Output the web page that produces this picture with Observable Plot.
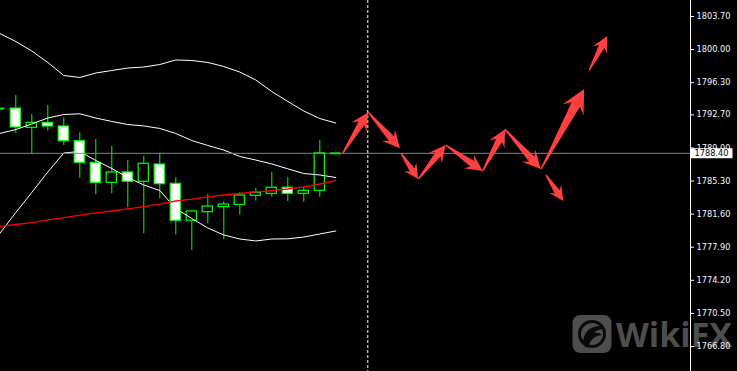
<!DOCTYPE html>
<html><head><meta charset="utf-8">
<script src="https://cdn.jsdelivr.net/npm/d3@7"></script>
<script src="https://cdn.jsdelivr.net/npm/@observablehq/plot@0.6"></script>
<style>
html,body{margin:0;padding:0;background:#000;}
#wrap{position:relative;width:737px;height:371px;overflow:hidden;background:#000;}
#wm{position:absolute;left:0;top:0;}
#chart{position:absolute;left:0;top:0;}
</style></head><body>
<div id="wrap">
<svg id="wm" width="737" height="371">
  <rect x="572.5" y="315" width="39" height="38" rx="8" fill="#4e4e4e"/>
  <circle cx="592" cy="334" r="12.5" fill="none" stroke="#0a0a0a" stroke-width="3"/>
  <path d="M583,341 Q585,328 598,326 Q602,326 605,329 Q597,329 594,333 Q599,332 602,335 Q594,336 591,341 Q589,345 586,348 Z" fill="#0a0a0a"/>
  <text x="616" y="347" font-family="Open Sans, Roboto, sans-serif" font-weight="700" font-size="34" fill="#4e4e4e">WikiFX</text>
</svg>
<div id="chart"></div>
</div>
<script>
// ---- data ----
const barIndex = [0,1,2,3,4,5,6,7,8,9,10,11,12,13,14,15,16,17,18,19,20,21];
const opens  = [1793.41,1793.41,1791.25,1791.81,1791.40,1789.76,1787.34,1785.10,1786.26,1785.22,1787.15,1784.99,1780.86,1781.82,1782.38,1782.64,1783.65,1783.87,1784.55,1783.87,1784.21,1788.40];
const highs  = [1793.41,1794.87,1792.74,1793.75,1792.37,1790.70,1789.95,1789.16,1787.60,1788.05,1788.41,1785.66,1781.90,1783.80,1783.01,1783.99,1784.47,1786.26,1785.70,1784.61,1789.83,1788.40];
const lows   = [1793.41,1790.62,1788.27,1790.87,1789.28,1785.62,1783.76,1783.87,1782.31,1779.40,1783.32,1779.27,1777.53,1780.52,1778.73,1781.48,1783.05,1783.49,1783.01,1782.94,1783.49,1788.40];
const closes = [1793.41,1791.29,1791.81,1791.40,1789.76,1787.34,1785.10,1786.26,1785.22,1787.23,1784.95,1780.86,1781.90,1782.45,1782.68,1783.68,1783.99,1784.55,1783.87,1784.21,1788.40,1788.40];

const upperBand  = [1801.80,1800.90,1799.84,1798.56,1797.10,1796.88,1797.38,1797.66,1797.94,1798.05,1798.33,1798.84,1798.78,1798.56,1798.11,1797.49,1796.60,1795.31,1794.20,1793.13,1792.29,1791.79];
const middleBand = [1790.62,1791.06,1791.68,1792.35,1792.74,1792.82,1792.35,1791.96,1791.62,1791.46,1791.18,1790.62,1789.83,1789.28,1788.77,1788.05,1787.65,1787.21,1786.67,1786.14,1785.98,1785.70];
const lowerBand  = [1779.44,1781.78,1784.02,1786.31,1788.44,1788.60,1787.60,1786.70,1785.70,1784.86,1784.24,1782.23,1781.11,1780.05,1779.27,1778.82,1778.60,1778.82,1778.84,1779.04,1779.38,1779.72];
const redLine    = [1780.22,1780.44,1780.66,1780.95,1781.22,1781.50,1781.73,1781.95,1782.18,1782.45,1782.73,1783.07,1783.27,1783.52,1783.74,1783.91,1784.08,1784.24,1784.41,1784.64,1784.97,1785.36];

const arrowX1 = [21.46,23.06,25.11,26.19,27.90,30.21,31.61,34.17,33.86,36.875];
const arrowY1 = [1788.35,1792.93,1788.35,1785.47,1789.28,1786.37,1791.03,1785.92,1786.59,1797.66];
const arrowX2 = [23.06,25.04,26.19,27.90,30.21,31.61,33.84,35.25,36.56,38.00];
const arrowY2 = [1792.93,1788.91,1785.47,1789.28,1786.37,1791.03,1786.59,1783.01,1795.54,1801.46];

const yTicks = [1803.70,1800.00,1796.30,1792.70,1789.00,1785.30,1781.60,1777.90,1774.20,1770.50,1766.80];
const currentPrice = 1788.40;
const futureBar = 23;

const xDomain = [0.04375, 43.169];
const yDomain = [1764.004, 1805.489];

// ---- build ----
const candles = barIndex.map((i,k)=>({i, open: opens[k], high: highs[k], low: lows[k], close: closes[k]}));
const bodies = candles.filter(d => d.open !== d.close);
const dojis = candles.filter(d => d.open === d.close);
const bands = barIndex.map((i,k)=>({i, upper: upperBand[k], middle: middleBand[k], lower: lowerBand[k], ma: redLine[k]}));
const arrows = arrowX1.map((x1,k)=>({x1, y1: arrowY1[k], x2: arrowX2[k], y2: arrowY2[k]}));

const halfBody = 0.32;
const arrowColor = "#ff4040";
const lime = "#00ff00";

function taperedArrows(index, scales, values) {
  const g = d3.create("svg:g");
  for (const i of index) {
    const x1 = values.x1[i], y1 = values.y1[i], x2 = values.x2[i], y2 = values.y2[i];
    const dx = x2 - x1, dy = y2 - y1, L = Math.hypot(dx, dy);
    const ux = dx / L, uy = dy / L, nx = -uy, ny = ux;
    const h = 10 + 0.15 * L, hw = 0.5 * h, sw = 0.2 * h, tw = 0.7;
    const bx = x2 - ux * h, by = y2 - uy * h;
    const jx = x2 - ux * h * 0.75, jy = y2 - uy * h * 0.75;
    const pts = [
      [x1 + nx * tw, y1 + ny * tw],
      [jx + nx * sw, jy + ny * sw],
      [bx + nx * hw, by + ny * hw],
      [x2, y2],
      [bx - nx * hw, by - ny * hw],
      [jx - nx * sw, jy - ny * sw],
      [x1 - nx * tw, y1 - ny * tw]
    ];
    g.append("path").attr("d", "M" + pts.map(p => p[0].toFixed(2) + "," + p[1].toFixed(2)).join("L") + "Z").attr("fill", arrowColor);
  }
  return g.node();
}

const barShape = {draw(context, l) { context.moveTo(0, 0); context.lineTo(0, -l); }};

const plot = Plot.plot({
  width: 737, height: 371,
  marginLeft: 0, marginRight: 47, marginTop: 0, marginBottom: 0,
  style: {background: "transparent", color: "white", fontFamily: "'DejaVu Sans', Tahoma, sans-serif", fontSize: "8px"},
  x: {domain: xDomain, axis: null},
  y: {domain: yDomain, axis: null},
  marks: [
    Plot.ruleX(candles, {x: "i", y1: "low", y2: "high", stroke: lime}),
    Plot.rect(bodies, {x1: d => d.i - halfBody, x2: d => d.i + halfBody, y1: "open", y2: "close",
      fill: d => d.close < d.open ? "#ffffff" : "#000000", stroke: lime, strokeWidth: 1.2}),
    Plot.ruleY(dojis, {y: "open", x1: d => d.i - halfBody, x2: d => d.i + halfBody, stroke: lime, strokeWidth: 2}),
    Plot.line(bands, {x: "i", y: "upper", stroke: "white", strokeWidth: 1}),
    Plot.line(bands, {x: "i", y: "middle", stroke: "white", strokeWidth: 1}),
    Plot.line(bands, {x: "i", y: "lower", stroke: "white", strokeWidth: 1}),
    Plot.line(bands, {x: "i", y: "ma", stroke: "#ff0000", strokeWidth: 1.3}),
    Plot.ruleY([currentPrice], {stroke: "#778899"}),
    Plot.ruleX([futureBar], {stroke: "white", strokeDasharray: "3,2"}),
    Plot.arrow(arrows, {x1: "x1", y1: "y1", x2: "x2", y2: "y2", stroke: arrowColor, strokeWidth: 3, render: taperedArrows}),
    Plot.ruleX([xDomain[1]], {stroke: "white"}),
    Plot.axisY(yTicks, {anchor: "right", tickSize: 3, tickPadding: 3, tickFormat: d => d.toFixed(2), stroke: "white", fill: "#f4f8ff", fontSize: 8.2}),
    Plot.vector([currentPrice], {x: xDomain[1], y: d => d, length: 42, rotate: 90, anchor: "start", stroke: "white", strokeWidth: 10, strokeLinecap: "butt", shape: barShape}),
    Plot.text([currentPrice], {x: xDomain[1], y: d => d, text: d => d.toFixed(2), dx: 4, textAnchor: "start", fill: "black", fontSize: 8.2})
  ]
});
document.getElementById("chart").appendChild(plot);
</script>
</body></html>
